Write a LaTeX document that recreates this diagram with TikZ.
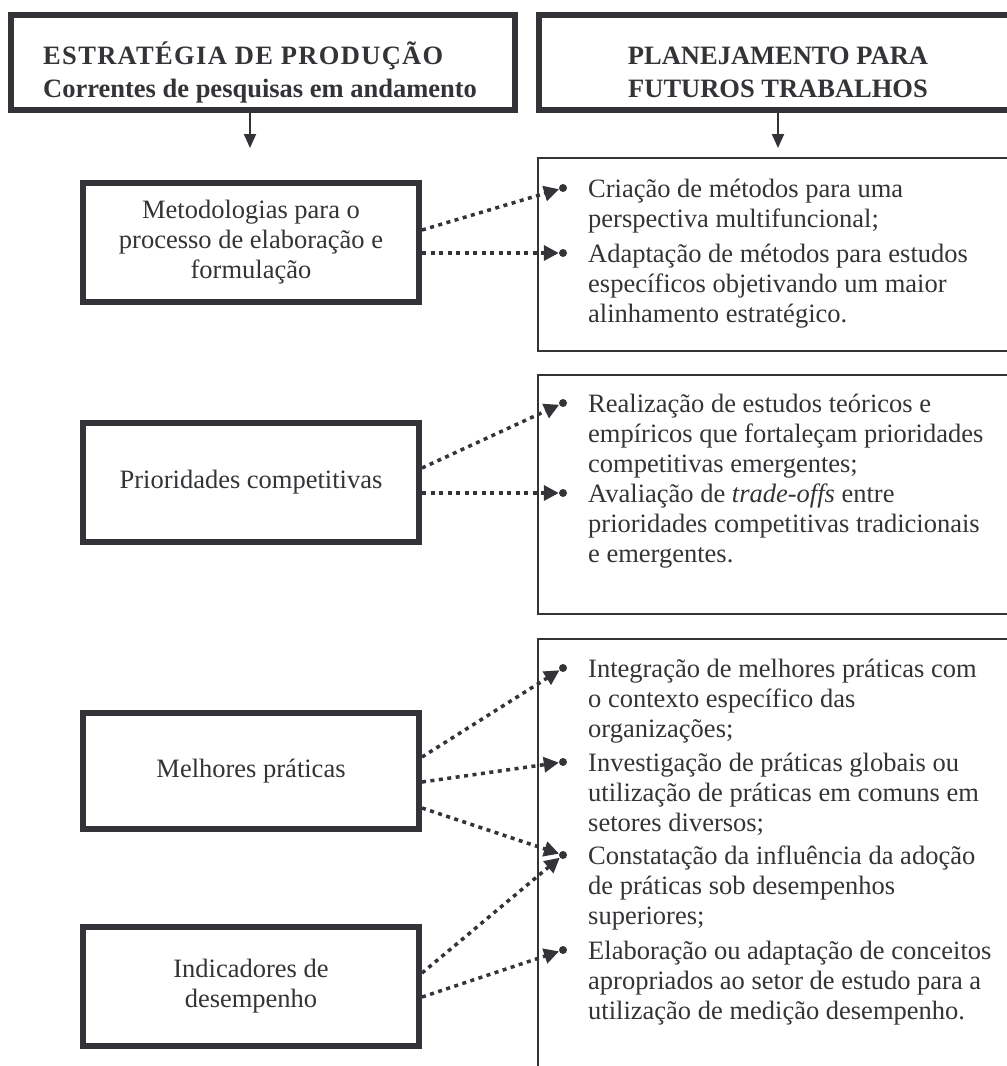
\documentclass[tikz,border=0pt]{standalone}
\usepackage{fontspec}
\setmainfont{Liberation Serif}
\usetikzlibrary{arrows.meta}
\definecolor{ink}{RGB}{52,52,56}
\begin{document}
\begin{tikzpicture}[x=1pt,y=-1pt,
  every node/.style={text=ink, font=\fontsize{26.5}{30}\selectfont},
  hdr/.style={draw=ink, line width=6pt, inner sep=0, minimum height=95pt},
  htxt/.style={anchor=base, inner sep=0, font=\fontsize{26.5}{30}\selectfont\bfseries},
  lbox/.style={draw=ink, line width=6pt, minimum width=336pt, minimum height=119pt, align=center, inner sep=0},
  rbox/.style={draw=ink, line width=2.5pt, minimum width=482pt, inner sep=0},
  dotc/.style={circle, fill=ink, inner sep=0, minimum size=8pt},
  item/.style={anchor=base west, inner sep=0},
  conn/.style={draw=ink, line width=3.5pt, dash pattern=on 4pt off 4.5pt, -{Triangle[length=15pt,width=15pt]}},
  harrow/.style={draw=ink, line width=2pt, -{Triangle[length=14pt,width=12pt]}},
]
\useasboundingbox (0,0) rectangle (1007,1066);
\clip (0,0) rectangle (1007,1066);
\fill[white] (0,0) rectangle (1007,1066);

% headers
\node[hdr, minimum width=504pt] (h1) at (263,62.5) {};
\node[hdr, minimum width=478pt] (h2) at (778,62.5) {};
\node[htxt, anchor=base west] (h1a) at (43,64) {\addfontfeature{LetterSpace=5}ESTRATÉGIA DE PRODUÇÃO};
\node[htxt, anchor=base west] (h1b) at (43,97) {Correntes de pesquisas em andamento};
\node[htxt] (h2a) at (778,64) {PLANEJAMENTO PARA};
\node[htxt] (h2b) at (778,97) {FUTUROS TRABALHOS};
\coordinate (a1) at (250,148);
\coordinate (a2) at (778,148);
\draw[harrow] (h1.south -| a1) -- (a1);
\draw[harrow] (h2.south) -- (a2);

% left boxes
\node[lbox] (met) at (251,242.5) {Metodologias para o\\processo de elaboração e\\formulação};
\node[lbox] (pri) at (251,482.5) {Prioridades competitivas};
\node[lbox, minimum height=116pt] (mel) at (251,771) {Melhores práticas};
\node[lbox] (ind) at (251,986.5) {Indicadores de\\desempenho};

% right boxes
\node[rbox, minimum height=193pt] (r1) at (779,254.5) {};
\node[rbox, minimum height=239pt] (r2) at (779,494.5) {};
\node[rbox, minimum height=451pt] (r3) at (779,864.5) {};

% bullets
\node[dotc] (b1) at (563,188) {};
\node[dotc] (b2) at (563,253) {};
\node[dotc] (b3) at (563,403) {};
\node[dotc] (b4) at (563,493) {};
\node[dotc] (b5) at (563,668) {};
\node[dotc] (b6) at (563,762) {};
\node[dotc] (b7) at (563,855) {};
\node[dotc] (b8) at (563,950) {};

% texts
\node[item] (t1a) at (588,197) {Criação de métodos para uma};
\node[item] (t1b) at (588,227) {perspectiva multifuncional;};
\node[item] (t2a) at (588,262) {Adaptação de métodos para estudos};
\node[item] (t2b) at (588,292) {específicos objetivando um maior};
\node[item] (t2c) at (588,322) {alinhamento estratégico.};
\node[item] (t3a) at (588,412) {Realização de estudos teóricos e};
\node[item] (t3b) at (588,442) {empíricos que fortaleçam prioridades};
\node[item] (t3c) at (588,472) {competitivas emergentes;};
\node[item] (t4a) at (588,502) {Avaliação de \textit{trade-offs} entre};
\node[item] (t4b) at (588,532) {prioridades competitivas tradicionais};
\node[item] (t4c) at (588,562) {e emergentes.};
\node[item] (t5a) at (588,677) {Integração de melhores práticas com};
\node[item] (t5b) at (588,707) {o contexto específico das};
\node[item] (t5c) at (588,737) {organizações;};
\node[item] (t6a) at (588,771) {Investigação de práticas globais ou};
\node[item] (t6b) at (588,801) {utilização de práticas em comuns em};
\node[item] (t6c) at (588,831) {setores diversos;};
\node[item] (t7a) at (588,864) {Constatação da influência da adoção};
\node[item] (t7b) at (588,894) {de práticas sob desempenhos};
\node[item] (t7c) at (588,924) {superiores;};
\node[item] (t8a) at (588,959) {Elaboração ou adaptação de conceitos};
\node[item] (t8b) at (588,989) {apropriados ao setor de estudo para a};
\node[item] (t8c) at (588,1019) {utilização de medição desempenho.};

% connectors
\draw[conn] ([yshift=12.5pt]met.east) -- (b1);
\draw[conn] (met.east |- b2) -- (b2);
\draw[conn] ([yshift=14.5pt]pri.east) -- (b3);
\draw[conn] (pri.east |- b4) -- (b4);
\draw[conn] ([yshift=14pt]mel.east) -- (b5);
\draw[conn] ([yshift=-11pt]mel.east) -- (b6);
\draw[conn] ([yshift=-37pt]mel.east) -- (b7);
\draw[conn] ([yshift=13.5pt]ind.east) -- (b7);
\draw[conn] ([yshift=-10.5pt]ind.east) -- (b8);
\end{tikzpicture}
\end{document}
